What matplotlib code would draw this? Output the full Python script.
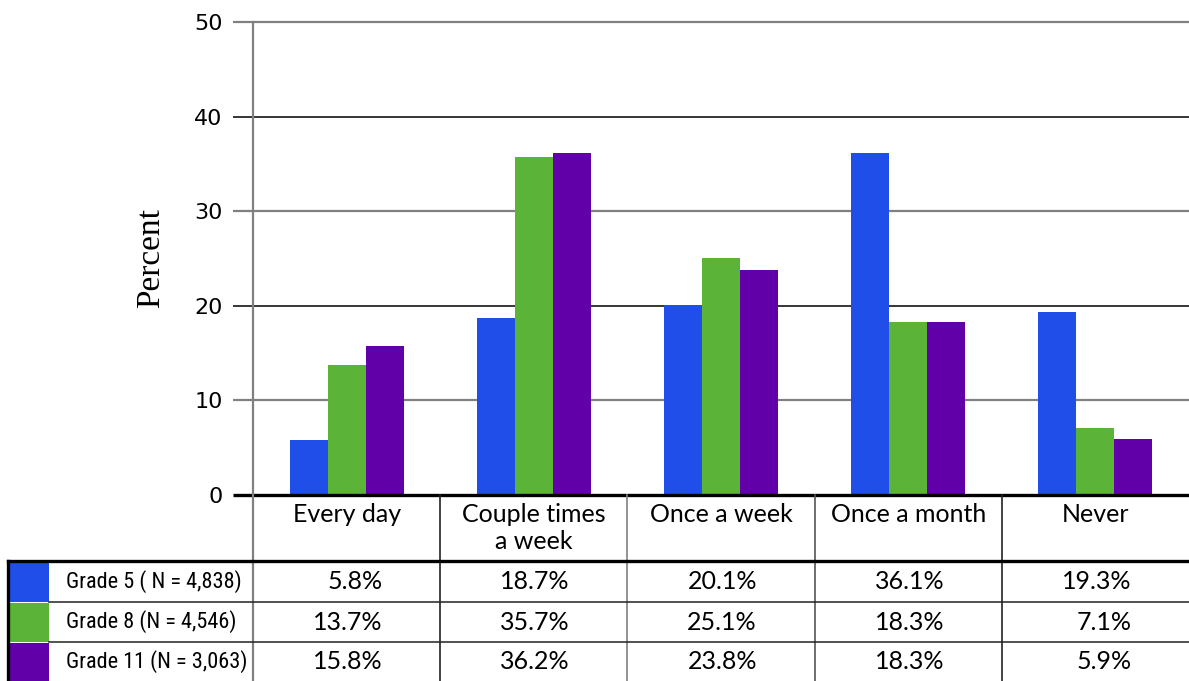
import matplotlib
matplotlib.use("Agg")
import matplotlib.pyplot as plt
from matplotlib import font_manager
import numpy as np
from matplotlib.patches import Rectangle

categories = ["Every day", "Couple times\na week", "Once a week", "Once a month", "Never"]
groups = ["Grade 5 ( N = 4,838)", "Grade 8 (N = 4,546)", "Grade 11 (N = 3,063)"]
grade5 = [5.8, 18.7, 20.1, 36.1, 19.3]
grade8 = [13.7, 35.7, 25.1, 18.3, 7.1]
grade11 = [15.8, 36.2, 23.8, 18.3, 5.9]
yticks = [0, 10, 20, 30, 40, 50]

series = [grade5, grade8, grade11]
cols = ["#1f4fe8", "#5bb437", "#6100a9"]

installed = {f.name for f in font_manager.fontManager.ttflist}
narrow = "Roboto"
for cand in ["Liberation Sans Narrow", "DejaVu Sans Condensed", "Roboto Condensed"]:
    if cand in installed:
        narrow = cand
        break

W, H = 1189, 681
fig = plt.figure(figsize=(W / 100, H / 100), dpi=100)

# main bar axes, placed in pixel terms
ax_l, ax_r, ax_t, ax_b = 253, 1189, 22, 495
ax = fig.add_axes([ax_l / W, (H - ax_b) / H, (ax_r - ax_l) / W, (ax_b - ax_t) / H])

x = np.arange(len(categories))
bw = 0.203
for i, vals in enumerate(series):
    ax.bar(x + (i - 1) * bw, vals, width=bw, color=cols[i], zorder=3)

ax.set_xlim(-0.5, len(categories) - 0.5)
ax.set_ylim(0, 50)
ax.set_xticks([])
ax.set_yticks(yticks)
ax.tick_params(axis="y", length=0, pad=22, labelsize=16)
for lab in ax.get_yticklabels():
    lab.set_fontfamily("DejaVu Sans")
for s in ax.spines.values():
    s.set_visible(False)

grid_cols = ["#000000", "#808080", "#000000", "#808080", "#000000", "#808080"]
tick_off = -20 / (ax_r - ax_l)
for k, yv in enumerate(yticks):
    if yv == 0:
        continue
    ax.hlines(yv, tick_off, 1, transform=ax.get_yaxis_transform(),
              color=grid_cols[k], lw=1.1 if k % 2 == 0 else 1.6, clip_on=False, zorder=1)
ax.hlines(0, tick_off, 1, transform=ax.get_yaxis_transform(),
          color="black", lw=2.4, clip_on=False, zorder=4)

ax.set_ylabel("Percent", family="Liberation Serif", fontsize=24, labelpad=20)

# overlay in pixel coordinates for the data table
ov = fig.add_axes([0, 0, 1, 1], facecolor="none")
ov.set_xlim(0, W)
ov.set_ylim(H, 0)
ov.axis("off")

col_w = (ax_r - ax_l) / len(categories)
centers = [ax_l + (i + 0.5) * col_w for i in range(len(categories))]
row_tops = [561, 602, 642, 681]

ov.plot([ax_l, ax_l], [ax_t, H], color="#808080", lw=1.6)
div_cols = ["#222222", "#808080", "#555555", "#222222"]
for i in range(1, len(categories)):
    xd = ax_l + i * col_w
    ov.plot([xd, xd], [ax_b, H], color=div_cols[i - 1], lw=1.2)

ov.plot([8, W], [561, 561], color="black", lw=2.4)
ov.plot([8, 8], [561, H], color="black", lw=2.4)
for yr in row_tops[1:3]:
    ov.plot([49, W], [yr, yr], color="#222222", lw=1.1)

for i, cat in enumerate(categories):
    ov.text(centers[i], 503, cat, ha="center", va="top", fontsize=18,
            family="Lato", linespacing=1.2)

for r, g in enumerate(groups):
    y0, y1 = row_tops[r], row_tops[r + 1]
    yc = (y0 + y1) / 2
    ov.add_patch(Rectangle((10, y0 + 1), 39, y1 - y0 - 1, color=cols[r], lw=0))
    ov.text(66, yc, g, ha="left", va="center", fontsize=16, family=narrow)
    for i, v in enumerate(series[r]):
        ov.text(centers[i] + 36, yc, f"{v:.1f}%", ha="right", va="center",
                fontsize=18, family="Lato")

fig.savefig("out.png", dpi=100)
